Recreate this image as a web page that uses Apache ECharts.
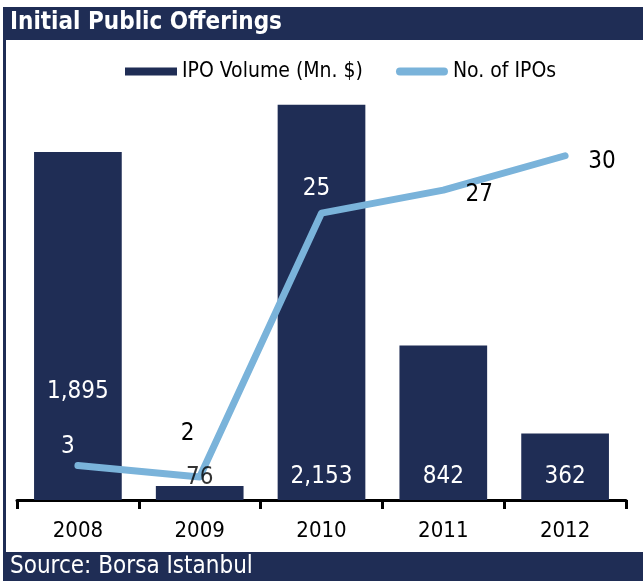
<!DOCTYPE html>
<html>
<head>
<meta charset="utf-8">
<script src="https://cdn.jsdelivr.net/npm/echarts@6/dist/echarts.min.js"></script>
<style>
html, body { margin: 0; padding: 0; background: #fff; }
#chart { width: 643px; height: 583px; }
</style>
</head>
<body>
<div id="chart"></div>
<script>
// 数据
var years = ["2008", "2009", "2010", "2011", "2012"];
var ipo_volume = [1895, 76, 2153, 842, 362];
var ipo_count = [3, 2, 25, 27, 30];

var NAVY = "#1f2d55";
var LIGHT = "#7ab3da";
var FONT = "'DejaVu Sans Condensed', 'DejaVu Sans', sans-serif";

// 柱内标签距离（null 表示放到柱顶，由覆盖层绘制）
var bar_label_dist = [96, null, 11, 11, 11];
// 折线标签偏移（逐项）
var line_label = [
	{ offset: [-10, -19], color: "#fff" },
	{ offset: [-12, -43], color: "#000" },
	{ offset: [-5, -24], color: "#fff" },
	{ offset: [36, 5], color: "#000" },
	{ offset: [37, 6], color: "#000" }
];

var fmt = p => Number(p.value).toLocaleString("en-US");

var chart = echarts.init(document.getElementById("chart"));
chart.setOption({
	animation: false,
	textStyle: { fontFamily: FONT },
	graphic: [
		{ type: "rect", shape: { x: 3, y: 7, width: 640, height: 33 }, style: { fill: NAVY } },
		{ type: "rect", shape: { x: 3, y: 40, width: 3, height: 512 }, style: { fill: NAVY } },
		{ type: "rect", shape: { x: 3, y: 552, width: 640, height: 29 }, style: { fill: NAVY } },
		{ type: "text", x: 10, y: 23, style: { text: "Initial Public Offerings", fill: "#fff",
			font: "bold 24px " + FONT, textVerticalAlign: "middle" } },
		{ type: "text", x: 10, y: 567, style: { text: "Source: Borsa Istanbul", fill: "#fff",
			font: "24px " + FONT, textVerticalAlign: "middle" } }
	],
	legend: {
		left: 120,
		top: 56,
		itemGap: 33,
		itemWidth: 52,
		itemHeight: 8,
		textStyle: { fontSize: 21, color: "#000", fontFamily: FONT },
		data: [
			{ name: "IPO Volume (Mn. $)", icon: "rect" },
			{ name: "No. of IPOs",
			  icon: "path://M4,0H48A4,4,0,0,1,48,8H4A4,4,0,0,1,4,0Z" }
		]
	},
	grid: { left: 17, right: 17, top: 41, bottom: 83 },
	xAxis: {
		type: "category",
		data: years,
		axisLine: { lineStyle: { color: "#000", width: 3 } },
		axisTick: { show: true, length: 9, lineStyle: { color: "#000", width: 3 } },
		axisLabel: { fontSize: 22, color: "#000", margin: 20, fontFamily: FONT }
	},
	yAxis: [
		{ type: "value", min: 0, max: 2500, show: false, splitLine: { show: false } },
		{ type: "value", min: 0, max: 40, show: false, splitLine: { show: false } }
	],
	series: [
		{
			name: "IPO Volume (Mn. $)",
			type: "bar",
			barCategoryGap: "28%",
			itemStyle: { color: NAVY },
			data: ipo_volume.map((v, i) => ({
				value: v,
				label: {
					show: bar_label_dist[i] !== null,
					position: "insideBottom",
					distance: bar_label_dist[i] || 0
				}
			})),
			label: { color: "#fff", fontSize: 24, fontFamily: FONT, formatter: fmt }
		},
		{
			name: "No. of IPOs",
			type: "line",
			yAxisIndex: 1,
			symbol: "circle",
			symbolSize: 1,
			itemStyle: { color: LIGHT },
			lineStyle: { color: LIGHT, width: 7, cap: "round", join: "round" },
			data: ipo_count.map((v, i) => ({
				value: v,
				label: Object.assign({ show: true, position: "inside" }, line_label[i])
			})),
			label: { fontSize: 24, fontFamily: FONT },
			z: 3
		},
		{
			// 柱顶标签覆盖层（画在折线之上）
			name: "bar-top-labels",
			type: "scatter",
			symbolSize: 0,
			silent: true,
			data: ipo_volume.map((v, i) => ({
				value: v,
				label: { show: bar_label_dist[i] === null }
			})),
			label: { position: "top", distance: -4, color: "#000", fontSize: 24,
				 fontFamily: FONT, formatter: fmt },
			z: 4
		}
	]
});
window.addEventListener("resize", chart.resize);
</script>
</body>
</html>
